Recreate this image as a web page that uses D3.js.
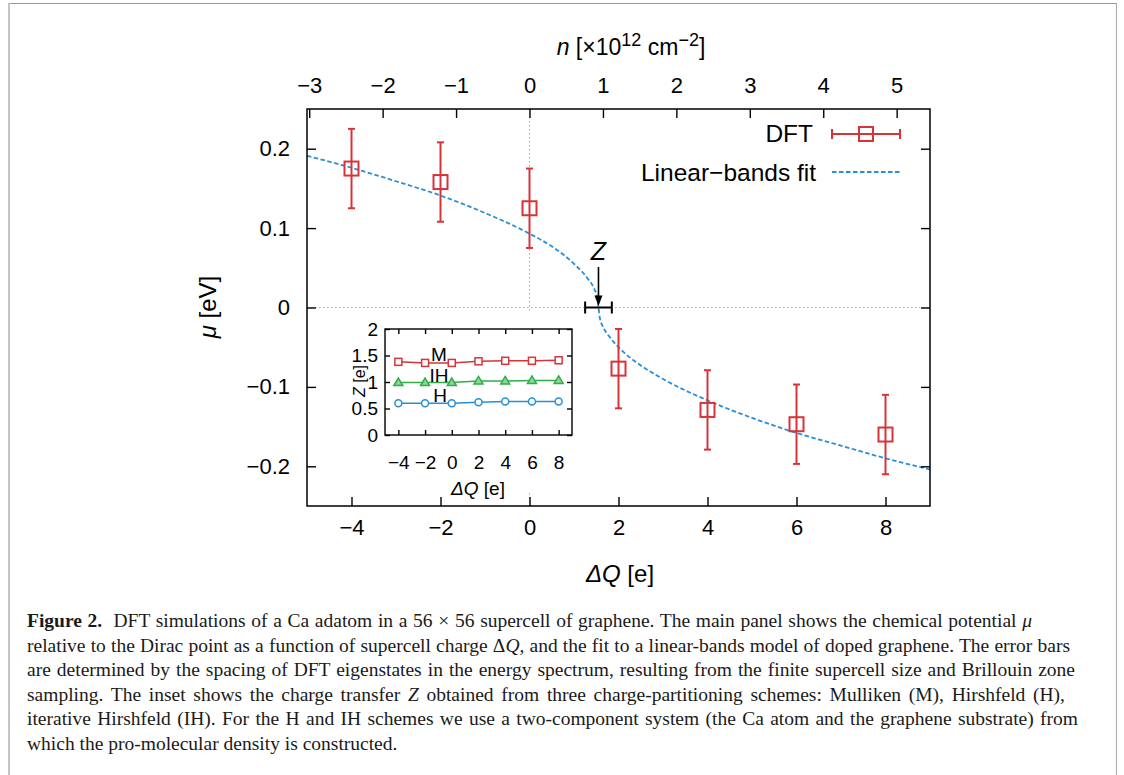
<!DOCTYPE html>
<html><head><meta charset="utf-8">
<script src="https://cdn.jsdelivr.net/npm/d3@7"></script>
<style>body{margin:0;background:#fff}</style>
</head><body>
<svg id="c" width="1124" height="775" xmlns="http://www.w3.org/2000/svg"></svg>
<script>
// ---------- data ----------
const dftQ   = [-4, -2, 0, 2, 4, 6, 8];
const dftMu  = [0.175, 0.158, 0.125, -0.077, -0.129, -0.147, -0.160];
const dftErr = [0.05, 0.05, 0.05, 0.05, 0.05, 0.05, 0.05];

const fitQ  = [-5, -4, -3, -2, -1, 0, 0.5, 1.0, 1.3, 1.45, 1.52, 1.55, 1.58, 1.65, 1.8, 2.0, 2.5, 3, 4, 5, 6, 7, 8, 9];
const fitMu = [0.191, 0.176, 0.159, 0.141, 0.119, 0.093, 0.077, 0.055, 0.037, 0.024, 0.013, 0.0, -0.013, -0.024, -0.037, -0.050, -0.073, -0.090, -0.117, -0.139, -0.158, -0.174, -0.190, -0.204];

const zQ = 1.55, zErr = 0.30;

const xTicks = [-4, -2, 0, 2, 4, 6, 8];
const yTicks = [-0.2, -0.1, 0, 0.1, 0.2];
const nTicks = [-3, -2, -1, 0, 1, 2, 3, 4, 5];
const nPerQ = 0.606;   // n [1e12 cm^-2] per unit of ΔQ

const insetQ  = [-4, -2, 0, 2, 4, 6, 8];
const insetM  = [1.38, 1.36, 1.36, 1.39, 1.40, 1.40, 1.41];
const insetIH = [0.99, 0.99, 0.99, 1.02, 1.02, 1.03, 1.03];
const insetH  = [0.60, 0.60, 0.60, 0.62, 0.63, 0.63, 0.63];
const insetXTicks = [-4, -2, 0, 2, 4, 6, 8];
const insetYTicks = [0, 0.5, 1, 1.5, 2];

const captionLines = [
  [["b","Figure 2."],["r","  DFT simulations of a Ca adatom in a 56 × 56 supercell of graphene. The main panel shows the chemical potential "],["i","μ"]],
  [["r","relative to the Dirac point as a function of supercell charge Δ"],["i","Q"],["r",", and the fit to a linear-bands model of doped graphene. The error bars"]],
  [["r","are determined by the spacing of DFT eigenstates in the energy spectrum, resulting from the finite supercell size and Brillouin zone"]],
  [["r","sampling. The inset shows the charge transfer "],["i","Z"],["r"," obtained from three charge-partitioning schemes: Mulliken (M), Hirshfeld (H),"]],
  [["r","iterative Hirshfeld (IH). For the H and IH schemes we use a two-component system (the Ca atom and the graphene substrate) from"]],
  [["r","which the pro-molecular density is constructed."]]
];

// ---------- style ----------
const RED = "#d7343a", BLUE = "#2a8fd6", GREEN = "#2fae48";
const SANS = "'Liberation Sans', Arial, Helvetica, sans-serif";
const SERIF = "'Liberation Serif', 'Times New Roman', serif";

const svg = d3.select("#c");

// figure border
svg.append("line").attr("x1",9).attr("y1",3.5).attr("x2",1117).attr("y2",3.5).attr("stroke","#999").attr("stroke-width",1);
svg.append("line").attr("x1",9).attr("y1",3).attr("x2",9).attr("y2",775).attr("stroke","#c4c4c4").attr("stroke-width",2);
svg.append("line").attr("x1",1116.5).attr("y1",3).attr("x2",1116.5).attr("y2",775).attr("stroke","#aaa").attr("stroke-width",1);

// scales
const X0 = 307, X1 = 930, Y0 = 506, Y1 = 109;
const x = d3.scaleLinear().domain([-5, 9]).range([X0, X1]);
const y = d3.scaleLinear().domain([-0.25, 0.25]).range([Y0, Y1]);
const xn = d3.scaleLinear().domain([-5 * nPerQ, 9 * nPerQ]).range([X0, X1]);

// zero lines
svg.append("line").attr("x1",x(0)).attr("x2",x(0)).attr("y1",Y1).attr("y2",Y0)
  .attr("stroke","#aaa").attr("stroke-width",1).attr("stroke-dasharray","1.5,2.5");
svg.append("line").attr("x1",X0).attr("x2",X1).attr("y1",y(0)).attr("y2",y(0))
  .attr("stroke","#aaa").attr("stroke-width",1).attr("stroke-dasharray","1.5,2.5");

// fit
const fitData = fitQ.map((q,i)=>[q, fitMu[i]]);
svg.append("path").datum(fitData)
  .attr("d", d3.line().x(d=>x(d[0])).y(d=>y(d[1])).curve(d3.curveMonotoneX))
  .attr("fill","none").attr("stroke",BLUE).attr("stroke-width",1.8).attr("stroke-dasharray","4.5,2.5");

// DFT points
const dft = dftQ.map((q,i)=>({q, mu:dftMu[i], e:dftErr[i]}));
const gD = svg.append("g").attr("stroke",RED).attr("fill","none");
gD.selectAll(".eb").data(dft).join("line")
  .attr("x1",d=>x(d.q)).attr("x2",d=>x(d.q)).attr("y1",d=>y(d.mu+d.e)).attr("y2",d=>y(d.mu-d.e)).attr("stroke-width",2);
gD.selectAll(".ct").data(dft).join("line")
  .attr("x1",d=>x(d.q)-3.5).attr("x2",d=>x(d.q)+3.5).attr("y1",d=>y(d.mu+d.e)).attr("y2",d=>y(d.mu+d.e)).attr("stroke-width",2);
gD.selectAll(".cb").data(dft).join("line")
  .attr("x1",d=>x(d.q)-3.5).attr("x2",d=>x(d.q)+3.5).attr("y1",d=>y(d.mu-d.e)).attr("y2",d=>y(d.mu-d.e)).attr("stroke-width",2);
gD.selectAll("rect").data(dft).join("rect")
  .attr("x",d=>x(d.q)-7).attr("y",d=>y(d.mu)-7).attr("width",14).attr("height",14).attr("stroke-width",2).attr("fill","none");

// axes
function styleAxis(g, fs){
  g.select(".domain").remove();
  g.attr("font-family", SANS).attr("font-size", fs);
  g.selectAll(".tick line").attr("stroke","#000").attr("stroke-width",1.4);
  g.selectAll(".tick text").attr("fill","#000");
}
const fmtY = d => d === 0 ? "0" : d3.format(".1f")(d);
const fmtI = d => d3.format("")(d);

svg.append("g").attr("transform",`translate(0,${Y0})`)
  .call(d3.axisBottom(x).tickValues(xTicks).tickFormat(fmtI).tickSizeInner(-9).tickSizeOuter(0).tickPadding(13))
  .call(g=>styleAxis(g,22));
svg.append("g").attr("transform",`translate(0,${Y1})`)
  .call(d3.axisTop(xn).tickValues(nTicks).tickFormat(fmtI).tickSizeInner(-9).tickSizeOuter(0).tickPadding(16))
  .call(g=>styleAxis(g,22));
svg.append("g").attr("transform",`translate(${X0},0)`)
  .call(d3.axisLeft(y).tickValues(yTicks).tickFormat(fmtY).tickSizeInner(-9).tickSizeOuter(0).tickPadding(17))
  .call(g=>styleAxis(g,22));
svg.append("g").attr("transform",`translate(${X1},0)`)
  .call(d3.axisRight(y).tickValues(yTicks).tickFormat("").tickSizeInner(-9).tickSizeOuter(0))
  .call(g=>styleAxis(g,22));

svg.append("rect").attr("x",X0).attr("y",Y1).attr("width",X1-X0).attr("height",Y0-Y1)
  .attr("fill","none").attr("stroke","#000").attr("stroke-width",1.5);

// axis titles
const tTop = svg.append("text").attr("x",631).attr("y",55).attr("text-anchor","middle")
  .attr("font-family",SANS).attr("font-size",23);
tTop.append("tspan").attr("font-style","italic").text("n");
tTop.append("tspan").text(" [×10");
tTop.append("tspan").attr("font-size",18).attr("dy",-9).text("12");
tTop.append("tspan").attr("dy",9).text(" cm");
tTop.append("tspan").attr("font-size",18).attr("dy",-9).text("−2");
tTop.append("tspan").attr("dy",9).text("]");

const tBot = svg.append("text").attr("x",620).attr("y",582).attr("text-anchor","middle")
  .attr("font-family",SANS).attr("font-size",24);
tBot.append("tspan").attr("font-style","italic").text("ΔQ");
tBot.append("tspan").text(" [e]");

const tL = svg.append("text").attr("transform","translate(216,307) rotate(-90)").attr("text-anchor","middle")
  .attr("font-family",SANS).attr("font-size",24);
tL.append("tspan").attr("font-style","italic").text("μ");
tL.append("tspan").text(" [eV]");

// legend
const lg = svg.append("g").attr("font-family",SANS).attr("font-size",24.5);
lg.append("text").attr("x",813).attr("y",142).attr("text-anchor","end").text("DFT");
lg.append("text").attr("x",816).attr("y",181).attr("text-anchor","end").text("Linear−bands fit");
const lgE = lg.append("g").attr("stroke",RED).attr("stroke-width",2).attr("fill","none");
lgE.append("line").attr("x1",832).attr("x2",900).attr("y1",134).attr("y2",134);
lgE.append("line").attr("x1",832).attr("x2",832).attr("y1",129).attr("y2",139);
lgE.append("line").attr("x1",900).attr("x2",900).attr("y1",129).attr("y2",139);
lgE.append("rect").attr("x",859).attr("y",127).attr("width",14).attr("height",14);
lg.append("line").attr("x1",832).attr("x2",900).attr("y1",172).attr("y2",172)
  .attr("stroke",BLUE).attr("stroke-width",1.8).attr("stroke-dasharray","4.5,2.5");

// Z marker
const gz = svg.append("g").attr("stroke","#000").attr("stroke-width",2);
gz.append("line").attr("x1",x(zQ-zErr)).attr("x2",x(zQ+zErr)).attr("y1",y(0)).attr("y2",y(0));
gz.append("line").attr("x1",x(zQ-zErr)).attr("x2",x(zQ-zErr)).attr("y1",y(0)-6).attr("y2",y(0)+6);
gz.append("line").attr("x1",x(zQ+zErr)).attr("x2",x(zQ+zErr)).attr("y1",y(0)-6).attr("y2",y(0)+6);
gz.append("line").attr("x1",x(zQ)).attr("x2",x(zQ)).attr("y1",y(0.051)).attr("y2",y(0.012)).attr("stroke-width",1.6);
svg.append("path").attr("d",`M${x(zQ)-4},${y(0.015)} L${x(zQ)+4},${y(0.015)} L${x(zQ)},${y(0.002)} Z`).attr("fill","#000");
svg.append("text").attr("x",x(zQ)).attr("y",260).attr("text-anchor","middle").attr("font-family",SANS)
  .attr("font-size",25).attr("font-style","italic").text("Z");

// ---------- inset ----------
const IX0 = 385, IX1 = 572, IY0 = 435, IY1 = 329;
svg.append("rect").attr("x",332).attr("y",313).attr("width",250).attr("height",178).attr("fill","#fff");
const ix = d3.scaleLinear().domain([-5, 9]).range([IX0, IX1]);
const iy = d3.scaleLinear().domain([0, 2]).range([IY0, IY1]);

const series = [
  {vals: insetM, color: RED, shape: "sq"},
  {vals: insetIH, color: GREEN, shape: "tri"},
  {vals: insetH, color: BLUE, shape: "circ"}
];
series.forEach(s=>{
  const pts = insetQ.map((q,i)=>[q, s.vals[i]]);
  svg.append("path").datum(pts).attr("d", d3.line().x(d=>ix(d[0])).y(d=>iy(d[1])))
    .attr("fill","none").attr("stroke",s.color).attr("stroke-width",1.5);
  const g = svg.append("g").attr("stroke",s.color).attr("stroke-width",1.5);
  if (s.shape==="sq") {
    g.selectAll("rect").data(pts).join("rect").attr("x",d=>ix(d[0])-3.5).attr("y",d=>iy(d[1])-3.5)
      .attr("width",7).attr("height",7).attr("fill","#fff");
  } else if (s.shape==="circ") {
    g.selectAll("circle").data(pts).join("circle").attr("cx",d=>ix(d[0])).attr("cy",d=>iy(d[1])).attr("r",3.5).attr("fill","#fff");
  } else {
    g.selectAll("path").data(pts).join("path")
      .attr("d",d=>`M${ix(d[0])},${iy(d[1])-4.5} L${ix(d[0])+4.5},${iy(d[1])+3} L${ix(d[0])-4.5},${iy(d[1])+3} Z`)
      .attr("fill","#8fd39b");
  }
});

svg.append("g").attr("transform",`translate(0,${IY0})`)
  .call(d3.axisBottom(ix).tickValues(insetXTicks).tickFormat(fmtI).tickSizeInner(-5).tickSizeOuter(0).tickPadding(21))
  .call(g=>styleAxis(g,19));
svg.append("g").attr("transform",`translate(0,${IY1})`)
  .call(d3.axisTop(ix).tickValues(insetXTicks).tickFormat("").tickSizeInner(-5).tickSizeOuter(0))
  .call(g=>styleAxis(g,19));
svg.append("g").attr("transform",`translate(${IX0},0)`)
  .call(d3.axisLeft(iy).tickValues(insetYTicks).tickFormat(fmtI).tickSizeInner(-5).tickSizeOuter(0).tickPadding(7))
  .call(g=>styleAxis(g,19));
svg.append("g").attr("transform",`translate(${IX1},0)`)
  .call(d3.axisRight(iy).tickValues(insetYTicks).tickFormat("").tickSizeInner(-5).tickSizeOuter(0))
  .call(g=>styleAxis(g,19));
svg.append("rect").attr("x",IX0).attr("y",IY1).attr("width",IX1-IX0).attr("height",IY0-IY1)
  .attr("fill","none").attr("stroke","#000").attr("stroke-width",1.4);

const il = svg.append("g").attr("font-family",SANS).attr("font-size",19).attr("text-anchor","middle");
il.append("text").attr("x",439).attr("y",361).text("M");
il.append("text").attr("x",439).attr("y",382).text("IH");
il.append("text").attr("x",440).attr("y",402).text("H");
const iXt = il.append("text").attr("x",478).attr("y",495);
iXt.append("tspan").attr("font-style","italic").text("ΔQ");
iXt.append("tspan").text(" [e]");
const iYt = svg.append("text").attr("transform","translate(365,381) rotate(-90)").attr("text-anchor","middle")
  .attr("font-family",SANS).attr("font-size",16);
iYt.append("tspan").attr("font-style","italic").text("Z");
iYt.append("tspan").text(" [e]");

// ---------- caption (justified via word-spacing) ----------
const capX = 27, capBase = 627, capStep = 24.5, capFS = 19.5;
const lineEnds = [1032, 1070, 1075, 1065, 1078, null];
captionLines.forEach((parts, li)=>{
  const t = svg.append("text").attr("font-family",SERIF).attr("font-size",capFS).attr("fill","#1a1a1a")
    .attr("x", capX).attr("y", capBase + li*capStep).attr("xml:space","preserve");
  parts.forEach(p=>{
    const ts = t.append("tspan").text(p[1]);
    if (p[0]==="b") ts.attr("font-weight","bold");
    if (p[0]==="i") ts.attr("font-style","italic");
  });
  if (lineEnds[li] !== null) {
    const target = lineEnds[li] - capX;
    let w = t.node().getComputedTextLength();
    if (w > target) {
      t.attr("font-size", capFS * target / w);
    } else {
      const nSp = parts.map(p=>p[1]).join("").split(" ").length - 1;
      t.attr("word-spacing", (target - w) / nSp);
    }
  }
});
</script>
</body></html>
